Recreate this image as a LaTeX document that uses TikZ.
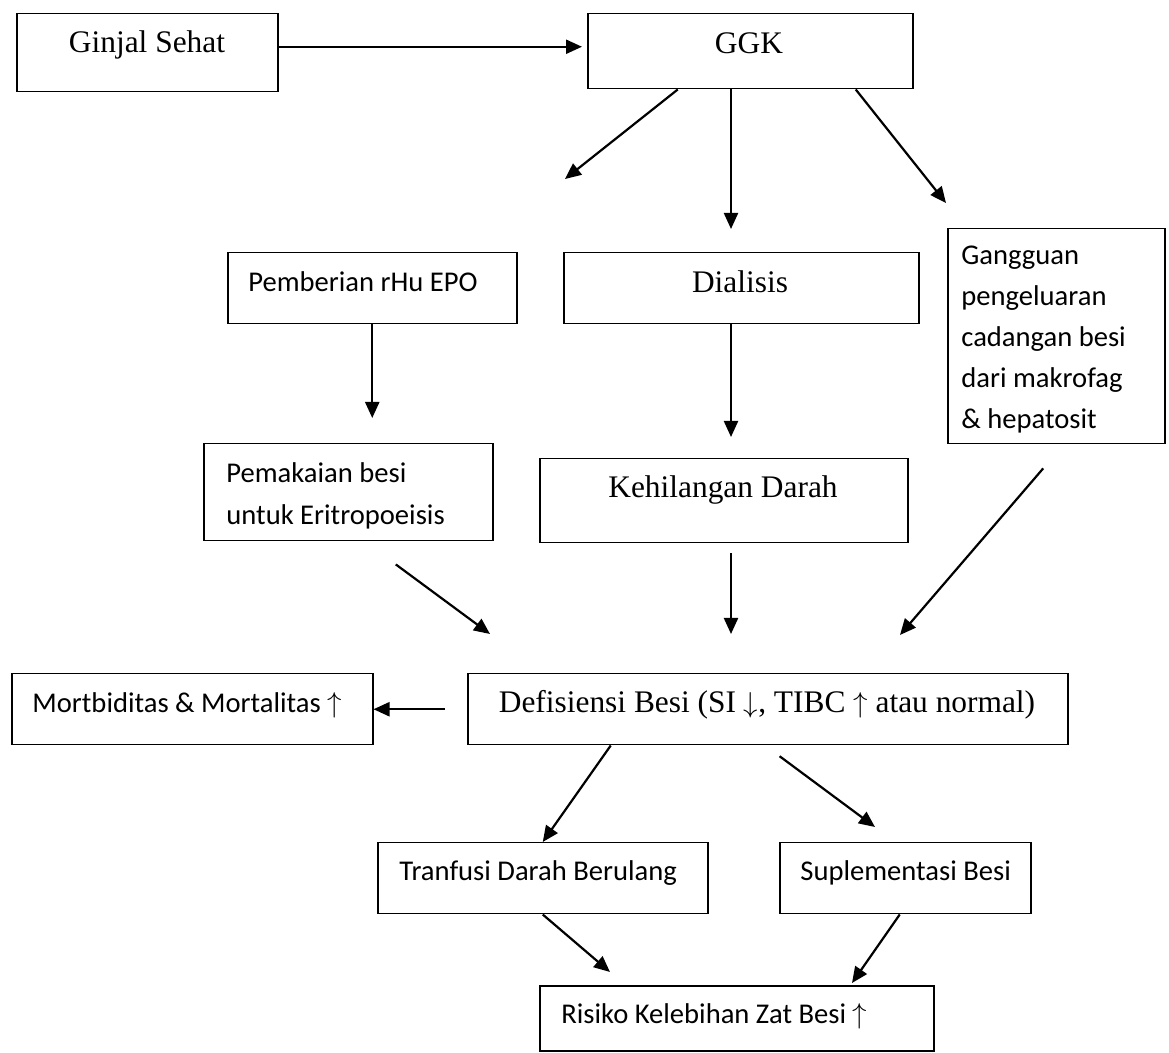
\documentclass[tikz,border=0pt]{standalone}
\usepackage{fontspec}
\setmainfont{Liberation Serif}
\newfontfamily\calibfont{Carlito}
\usetikzlibrary{arrows.meta,positioning}
\tikzset{
  box/.style={rectangle, draw=black, line width=0.75pt, inner sep=0pt, anchor=north west},
  ser/.style={font=\fontsize{15.7}{18}\selectfont, inner sep=0pt, anchor=base},
  san/.style={font=\calibfont\fontsize{14.3}{17}\selectfont, inner sep=0pt, anchor=base west},
  arr/.style={-{Triangle[length=8pt, width=7pt]}, line width=1.1pt},
}

\begin{document}
\begin{tikzpicture}[x=0.5pt, y=-0.5pt]
  \useasboundingbox[fill=white] (0,0) rectangle (1169,1053);
  % boxes
  \node[box, minimum width=130.5pt, minimum height=39pt]   (ginjal) at (16,13) {};
  \node[box, minimum width=162.5pt, minimum height=37.5pt] (ggk)    at (587,13) {};
  \node[box, minimum width=144.5pt, minimum height=35.5pt] (epo)    at (227,252) {};
  \node[box, minimum width=177.5pt, minimum height=35.5pt] (dial)   at (563,252) {};
  \node[box, minimum width=108.5pt, minimum height=107.5pt] (gang)  at (947,228) {};
  \node[box, minimum width=144.5pt, minimum height=48.5pt] (pakai)  at (203,443) {};
  \node[box, minimum width=184pt,   minimum height=42pt]   (keh)    at (539,458) {};
  \node[box, minimum width=180.5pt, minimum height=35.5pt] (mort)   at (11,673) {};
  \node[box, minimum width=300pt,   minimum height=35.5pt] (def)    at (467,673) {};
  \node[box, minimum width=165pt,   minimum height=35.5pt] (tran)   at (377,842) {};
  \node[box, minimum width=125.5pt, minimum height=35.5pt] (sup)    at (779,842) {};
  \node[box, minimum width=197pt,   minimum height=32.5pt] (risk)   at (539,985) {};
  % texts
  \node[ser] (tginjal) at (147,53) {Ginjal Sehat};
  \node[ser] (tggk) at (749,54) {GGK};
  \node[san] (tepo) at (248,292) {Pemberian rHu EPO};
  \node[ser] (tdial) at (740,293) {Dialisis};
  \foreach \s/\y in {Gangguan/265, pengeluaran/306, cadangan besi/347, dari makrofag/388, \& hepatosit/429}
    \node[san] (tgang\y) at (961,\y) {\s};
  \foreach \s/\y in {Pemakaian besi/483, untuk Eritropoeisis/525}
    \node[san] (tpakai\y) at (226,\y) {\s};
  \node[ser] (tkeh) at (723,498) {Kehilangan Darah};
  \node[san] (tmort) at (32,713) {Mortbiditas \& Mortalitas $\uparrow$};
  \node[ser] (tdef) at (767,713) {Defisiensi Besi (SI $\downarrow$, TIBC $\uparrow$ atau normal)};
  \node[san] (ttran) at (399,880) {Tranfusi Darah Berulang};
  \node[san] (tsup) at (800,880) {Suplementasi Besi};
  \node[san] (trisk) at (561,1023) {Risiko Kelebihan Zat Besi $\uparrow$};
  % free arrow ends
  \coordinate (gsA) at ([yshift=3pt]ginjal.east);
  \coordinate (ggkL) at (565,179);
  \coordinate (ggkD) at (731,229);
  \coordinate (ggkR) at (946,203);
  \coordinate (dialD) at (731,437);
  \coordinate (defA) at (490,634);
  \coordinate (defB) at (731,634);
  \coordinate (defC) at (900,635);
  \coordinate (supT) at (875,827);
  \coordinate (riskA) at (610,972);
  \coordinate (riskB) at (852,983);
  % connectors
  \draw[arr, shorten >=2.5pt] (gsA) -- (gsA -| ggk.west);
  \draw[arr] ([xshift=-36.25pt]ggk.south) -- (ggkL);
  \draw[arr] (ggk.south -| ggkD) -- (ggkD);
  \draw[arr] ([xshift=52.75pt]ggk.south) -- (ggkR);
  \draw[arr, shorten >=12.5pt] (epo.south) -- (epo.south |- pakai.north);
  \draw[arr] (dial.south -| dialD) -- (dialD);
  \draw[arr, shorten <=19.3pt] ([xshift=8.25pt]pakai.south) -- (defA);
  \draw[arr, shorten <=5pt] (keh.south -| defB) -- (defB);
  \draw[arr, shorten <=15.75pt] ([xshift=3.75pt]gang.south) -- (defC);
  \draw[arr, shorten <=11pt] (def.west) -- (mort.east);
  \draw[arr] ([xshift=-78.5pt]def.south) -- (tran.north);
  \draw[arr, shorten <=9pt] ([xshift=-1.3pt]def.south) -- (supT);
  \draw[arr] (tran.south) -- (riskA);
  \draw[arr] ([xshift=-2.75pt]sup.south) -- (riskB);
\end{tikzpicture}
\end{document}
